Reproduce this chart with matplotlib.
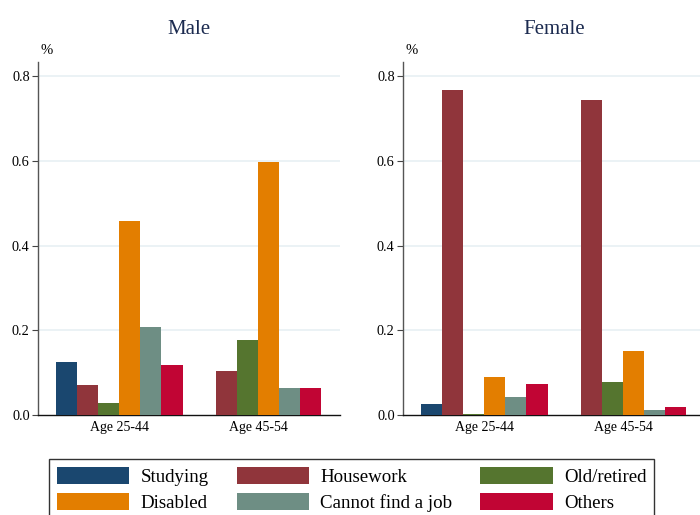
import matplotlib
matplotlib.use("Agg")
import matplotlib.pyplot as plt
import numpy as np
from matplotlib.patches import Patch

plt.rcParams["font.family"] = ["Liberation Serif", "DejaVu Serif"]

groups = ["Age 25-44", "Age 45-54"]
reasons = ["Studying", "Housework", "Old/retired", "Disabled", "Cannot find a job", "Others"]
colors = ["#1a476f", "#90353b", "#55752f", "#e37e00", "#6e8e84", "#c10534"]

# share of people out of work, by reason (rows = age group)
male = [
    [0.126, 0.070, 0.028, 0.458, 0.207, 0.117],
    [0.000, 0.104, 0.176, 0.598, 0.063, 0.063],
]
female = [
    [0.026, 0.768, 0.003, 0.090, 0.043, 0.074],
    [0.000, 0.744, 0.078, 0.152, 0.012, 0.019],
]
panels = [("Male", male), ("Female", female)]

W, H = 700, 515
fig = plt.figure(figsize=(7, 5.15), dpi=100)

bar_w = 0.152
x = np.arange(len(groups))

for k, (title, vals) in enumerate(panels):
    left_px = 38 if k == 0 else 403
    ax = fig.add_axes([left_px / W, (H - 415) / H, 302 / W, (415 - 62.3) / H])
    vals = np.array(vals)
    for i, reason in enumerate(reasons):
        ax.bar(x + (i - 2.5) * bar_w, vals[:, i], width=bar_w, color=colors[i],
               linewidth=0, zorder=3)
    ax.set_xlim(-0.585, 1.59)
    ax.set_ylim(0, 0.833)
    ax.set_yticks([0, 0.2, 0.4, 0.6, 0.8])
    ax.set_yticklabels(["0.0", "0.2", "0.4", "0.6", "0.8"])
    ax.set_xticks(x)
    ax.set_xticklabels(groups)
    for y in [0.2, 0.4, 0.6, 0.8]:
        ax.axhline(y, color="#e8f0f3", lw=1.2, zorder=1)
    ax.tick_params(axis="y", length=4.5, width=0.8, color="#444444", pad=1.5, labelsize=10.3)
    ax.tick_params(axis="x", length=0, pad=4, labelsize=10)
    ax.spines["top"].set_visible(False)
    ax.spines["right"].set_visible(False)
    ax.spines["left"].set_color("#555555")
    ax.spines["left"].set_linewidth(1.0)
    ax.spines["bottom"].set_color("#111111")
    ax.spines["bottom"].set_linewidth(1.0)
    ax.text(0.5, (415 - 33.5) / (415 - 62.3), title, transform=ax.transAxes,
            ha="center", va="baseline", fontsize=15, color="#1c2b50")
    ax.text(0.009, (415 - 50) / (415 - 62.3), "%", transform=ax.transAxes,
            ha="left", va="center", fontsize=10.5)

handles = [Patch(facecolor=c, edgecolor="none") for c in colors]
order = [0, 3, 1, 4, 2, 5]
leg = fig.legend([handles[i] for i in order], [reasons[i] for i in order],
                 ncol=3, loc="upper left", bbox_to_anchor=(49 / W, 1 - 459 / H),
                 fontsize=13.6, frameon=True, fancybox=False, edgecolor="black",
                 handlelength=3.84, handleheight=1.05, handletextpad=0.6,
                 columnspacing=1.48, labelspacing=0.37, borderpad=0.4,
                 borderaxespad=0)
leg.get_frame().set_linewidth(1.0)

fig.savefig("out.png", dpi=100)
